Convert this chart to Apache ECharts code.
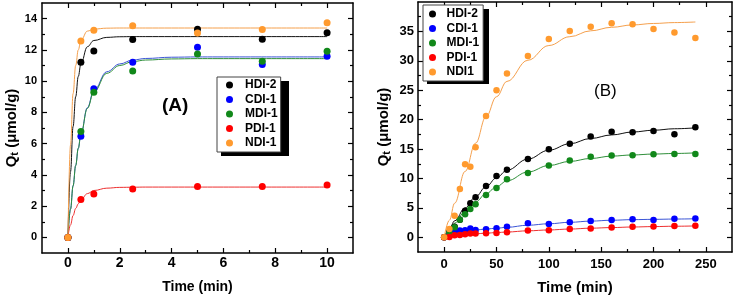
<!DOCTYPE html>
<html>
<head>
<meta charset="utf-8">
<script src="https://cdn.jsdelivr.net/npm/echarts@6/dist/echarts.min.js"></script>
<style>
html, body { margin: 0; padding: 0; background: #fff; }
#chart { width: 735px; height: 300px; }
</style>
</head>
<body>
<div id="chart"></div>
<script>
// ---- panel A (0-10 min) ----
var timeA = [0, 0.5, 1, 2.5, 5, 7.5, 10];
var hdiA = [0, 11.21, 11.93, 12.66, 13.32, 12.68, 13.10];
var cdiA = [0, 6.48, 9.52, 11.21, 12.17, 11.06, 11.59];
var mdiA = [0, 6.78, 9.29, 10.65, 11.74, 11.27, 11.91];
var pdiA = [0, 2.43, 2.77, 3.09, 3.26, 3.26, 3.35];
var ndiA = [0, 12.57, 13.25, 13.55, 13.08, 13.30, 13.74];

// fitted curves
var fitTimeA = [0, 0.1, 0.2, 0.3, 0.4, 0.5, 0.75, 1, 1.5, 2, 2.5, 3, 4, 5, 10];
var fitHdiA = [0, 4.2, 7.1, 9.0, 10.3, 11.1, 12.2, 12.6, 12.8, 12.84, 12.85, 12.85, 12.85, 12.85, 12.85];
var fitCdiA = [0, 1.8, 3.3, 4.6, 5.7, 6.6, 8.3, 9.4, 10.6, 11.1, 11.35, 11.45, 11.53, 11.55, 11.55];
var fitMdiA = [0, 1.8, 3.3, 4.6, 5.7, 6.6, 8.25, 9.3, 10.5, 11.0, 11.25, 11.35, 11.42, 11.44, 11.44];
var fitPdiA = [0, 0.8, 1.4, 1.85, 2.15, 2.4, 2.8, 3.0, 3.15, 3.2, 3.21, 3.22, 3.22, 3.22, 3.22];
var fitNdiA = [0, 5.9, 9.2, 11.0, 12.0, 12.6, 13.2, 13.33, 13.39, 13.4, 13.4, 13.4, 13.4, 13.4, 13.4];

// ---- panel B (0-240 min) ----
var timeB = [0, 5, 10, 15, 20, 25, 30, 40, 50, 60, 80, 100, 120, 140, 160, 180, 200, 220, 240];
var hdiB = [0, 0.9, 1.8, 3.0, 4.5, 5.8, 6.8, 8.7, 10.4, 11.5, 13.3, 14.95, 15.9, 17.15, 17.95, 17.85, 18.05, 17.5, 18.7];
var cdiB = [0, 0.8, 1.05, 1.15, 1.2, 1.5, 1.25, 1.35, 1.55, 1.8, 2.4, 2.25, 2.55, 2.75, 2.95, 3.05, 2.95, 3.15, 3.2];
var mdiB = [0, 0.8, 1.7, 3.0, 3.9, 4.8, 5.6, 7.2, 8.4, 9.85, 10.95, 12.2, 13.05, 13.7, 13.9, 13.95, 14.1, 14.15, 14.15];
var pdiB = [0, 0.05, 0.35, 0.4, 0.5, 0.65, 0.65, 0.7, 0.75, 0.85, 1.15, 1.2, 1.4, 1.5, 1.65, 1.8, 1.85, 1.9, 1.95];
var ndiB = [0, 1.4, 3.65, 8.2, 12.4, 12.0, 15.3, 20.6, 25.0, 27.85, 30.8, 33.7, 35.05, 35.8, 36.4, 36.2, 35.4, 34.8, 33.9];

var fitTimeB = [0, 5, 10, 20, 30, 40, 50, 60, 80, 100, 120, 140, 160, 180, 200, 220, 240];
var fitHdiB = [0, 1.4, 2.8, 5.0, 6.9, 8.6, 10.1, 11.4, 13.3, 14.8, 15.9, 16.8, 17.4, 17.9, 18.2, 18.45, 18.6];
var fitCdiB = [0, 0.8, 1.0, 1.15, 1.25, 1.4, 1.55, 1.7, 2.05, 2.3, 2.55, 2.75, 2.9, 3.0, 3.05, 3.1, 3.15];
var fitMdiB = [0, 1.2, 2.4, 4.4, 6.0, 7.4, 8.6, 9.6, 11.1, 12.2, 12.9, 13.4, 13.8, 14.0, 14.15, 14.25, 14.35];
var fitPdiB = [0, 0.2, 0.35, 0.5, 0.6, 0.7, 0.8, 0.9, 1.1, 1.25, 1.4, 1.55, 1.65, 1.75, 1.82, 1.88, 1.93];
var fitNdiB = [0, 2.9, 5.8, 11.2, 16.0, 20.5, 23.9, 26.5, 30.1, 32.6, 34.1, 35.1, 35.7, 36.1, 36.35, 36.5, 36.6];

// names, ticks
var namesA = ['HDI-2', 'CDI-1', 'MDI-1', 'PDI-1', 'NDI-1'];
var namesB = ['HDI-2', 'CDI-1', 'MDI-1', 'PDI-1', 'NDI1'];
var xMajorA = [0, 2, 4, 6, 8, 10];
var xMinorA = [1, 3, 5, 7, 9];
var yMajorA = [0, 2, 4, 6, 8, 10, 12, 14];
var yMinorA = [1, 3, 5, 7, 9, 11, 13];
var xMajorB = [0, 50, 100, 150, 200, 250];
var xMinorB = [25, 75, 125, 175, 225];
var yMajorB = [0, 5, 10, 15, 20, 25, 30, 35];
var yMinorB = [2.5, 7.5, 12.5, 17.5, 22.5, 27.5, 32.5, 37.5];

var dotColors = ['#000000', '#0000ff', '#11881a', '#ff0000', '#ff9a2e'];
var fitColors = ['#111111', '#3b55d6', '#2f8f3a', '#ee3030', '#f5a04d'];
var font = '"Liberation Sans", Arial, sans-serif';

function pairs(xs, ys) {
    var out = [];
    for (var i = 0; i < xs.length; i++) out.push([xs[i], ys[i]]);
    return out;
}

// one axis: frame line + inward ticks
function makeAxis(grid, pos, min, max, ticks, len, showLine) {
    return {
        type: 'value', gridIndex: grid, position: pos, min: min, max: max,
        axisLine: { show: showLine, onZero: false, lineStyle: { color: '#000', width: 1.5 } },
        axisTick: { show: true, inside: true, length: len, customValues: ticks, lineStyle: { color: '#000', width: 1.2 } },
        axisLabel: { show: false },
        splitLine: { show: false },
        axisPointer: { show: false }
    };
}

var qName = '{a|Q}{b|t}{a| (\u03bcmol/g)}';
function qStyle(size) {
    return {
        color: '#000', fontFamily: font, fontWeight: 'bold', fontSize: size,
        rich: {
            a: { fontFamily: font, fontWeight: 'bold', fontSize: size, color: '#000' },
            b: { fontFamily: font, fontWeight: 'bold', fontSize: size - 4, color: '#000', verticalAlign: 'bottom', padding: [5, 0, 0, 0] }
        }
    };
}

var xAxes = [], yAxes = [];

// panel A axes
var xa = makeAxis(0, 'bottom', -1, 11, xMajorA, 5, true);
xa.axisLabel = { show: true, customValues: xMajorA, margin: 3, fontFamily: font, fontWeight: 'bold', fontSize: 14, color: '#000' };
xa.name = 'Time (min)'; xa.nameLocation = 'middle'; xa.nameGap = 27;
xa.nameTextStyle = { fontFamily: font, fontWeight: 'bold', fontSize: 14, color: '#000' };
xAxes.push(xa);
xAxes.push(makeAxis(0, 'bottom', -1, 11, xMinorA, 3, false));
xAxes.push(makeAxis(0, 'top', -1, 11, xMajorA, 5, true));
xAxes.push(makeAxis(0, 'top', -1, 11, xMinorA, 3, false));

var ya = makeAxis(0, 'left', -1, 15, yMajorA, 5, true);
ya.axisLabel = { show: true, customValues: yMajorA, margin: 5, fontFamily: font, fontWeight: 'bold', fontSize: 11, color: '#000' };
ya.name = qName; ya.nameLocation = 'middle'; ya.nameGap = 22;
ya.nameTextStyle = qStyle(15);
yAxes.push(ya);
yAxes.push(makeAxis(0, 'left', -1, 15, yMinorA, 3, false));
yAxes.push(makeAxis(0, 'right', -1, 15, yMajorA, 5, true));
yAxes.push(makeAxis(0, 'right', -1, 15, yMinorA, 3, false));

// panel B axes
var xb = makeAxis(1, 'bottom', -25, 275, xMajorB, 5, true);
xb.axisLabel = { show: true, customValues: xMajorB, margin: 6, fontFamily: font, fontWeight: 'bold', fontSize: 13, color: '#000' };
xb.name = 'Time (min)'; xb.nameLocation = 'middle'; xb.nameGap = 28;
xb.nameTextStyle = { fontFamily: font, fontWeight: 'bold', fontSize: 15, color: '#000' };
xAxes.push(xb);
xAxes.push(makeAxis(1, 'bottom', -25, 275, xMinorB, 3, false));
xAxes.push(makeAxis(1, 'top', -25, 275, xMajorB, 5, true));
xAxes.push(makeAxis(1, 'top', -25, 275, xMinorB, 3, false));

var yb = makeAxis(1, 'left', -2.5, 40, yMajorB, 5, true);
yb.axisLabel = { show: true, customValues: yMajorB, margin: 4, fontFamily: font, fontWeight: 'bold', fontSize: 13, color: '#000' };
yb.name = qName; yb.nameLocation = 'middle'; yb.nameGap = 26;
yb.nameTextStyle = qStyle(15);
yAxes.push(yb);
yAxes.push(makeAxis(1, 'left', -2.5, 40, yMinorB, 3, false));
yAxes.push(makeAxis(1, 'right', -2.5, 40, yMajorB, 5, true));
yAxes.push(makeAxis(1, 'right', -2.5, 40, yMinorB, 3, false));

var dotsA = [hdiA, cdiA, mdiA, pdiA, ndiA];
var fitsA = [fitHdiA, fitCdiA, fitMdiA, fitPdiA, fitNdiA];
var dotsB = [hdiB, cdiB, mdiB, pdiB, ndiB];
var fitsB = [fitHdiB, fitCdiB, fitMdiB, fitPdiB, fitNdiB];

var series = [];
function addPanel(xIdx, yIdx, names, tDots, dots, tFit, fits, size) {
    for (var i = 0; i < names.length; i++) {
        series.push({
            name: 'fit ' + xIdx + ' ' + names[i], type: 'line', xAxisIndex: xIdx, yAxisIndex: yIdx,
            data: pairs(tFit, fits[i]), smooth: 0.4, smoothMonotone: 'x', showSymbol: false,
            lineStyle: { color: fitColors[i], width: 1 }, silent: true, z: 2
        });
    }
    for (var i = 0; i < names.length; i++) {
        series.push({
            name: names[i], type: 'scatter', xAxisIndex: xIdx, yAxisIndex: yIdx,
            data: pairs(tDots, dots[i]), symbol: 'circle', symbolSize: size,
            itemStyle: { color: dotColors[i], opacity: 1 }, z: 3
        });
    }
}
addPanel(0, 0, namesA, timeA, dotsA, fitTimeA, fitsA, 7);
addPanel(4, 4, namesB, timeB, dotsB, fitTimeB, fitsB, 6.5);

function legendData(names) {
    return names.map(function (n) { return { name: n, icon: 'circle' }; });
}

var legendBox = {
    orient: 'vertical', selectedMode: false, itemHeight: 7, itemGap: 2.5,
    backgroundColor: '#fff', borderColor: '#444', borderWidth: 1, z: 6,
    textStyle: { fontFamily: font, fontWeight: 'bold', fontSize: 12, color: '#000', lineHeight: 12 }
};

var chart = echarts.init(document.getElementById('chart'), null, { renderer: 'canvas' });
chart.setOption({
    animation: false,
    backgroundColor: '#fff',
    grid: [
        { left: 42, top: 3, width: 311, height: 250 },
        { left: 418, top: 2, width: 314, height: 251 }
    ],
    xAxis: xAxes,
    yAxis: yAxes,
    legend: [
        Object.assign({}, legendBox, { left: 217, top: 77, itemWidth: 21, padding: [2, 3, 3, 9], data: legendData(namesA) }),
        Object.assign({}, legendBox, { left: 423, top: 5, itemWidth: 18, padding: [3, 4, 3, 6], data: legendData(namesB) })
    ],
    graphic: [
        // drop shadows behind the two legend boxes
        { type: 'rect', z: 5, shape: { x: 221, y: 81, width: 68, height: 75 }, style: { fill: '#000' } },
        { type: 'rect', z: 5, shape: { x: 427, y: 9, width: 62, height: 75 }, style: { fill: '#000' } },
        { type: 'text', left: 162, top: 96, style: { text: '(A)', fontFamily: font, fontWeight: 'bold', fontSize: 19, fill: '#000' } },
        { type: 'text', left: 594, top: 83, style: { text: '(B)', fontFamily: font, fontSize: 17, fill: '#000' } }
    ],
    series: series
});
</script>
</body>
</html>
